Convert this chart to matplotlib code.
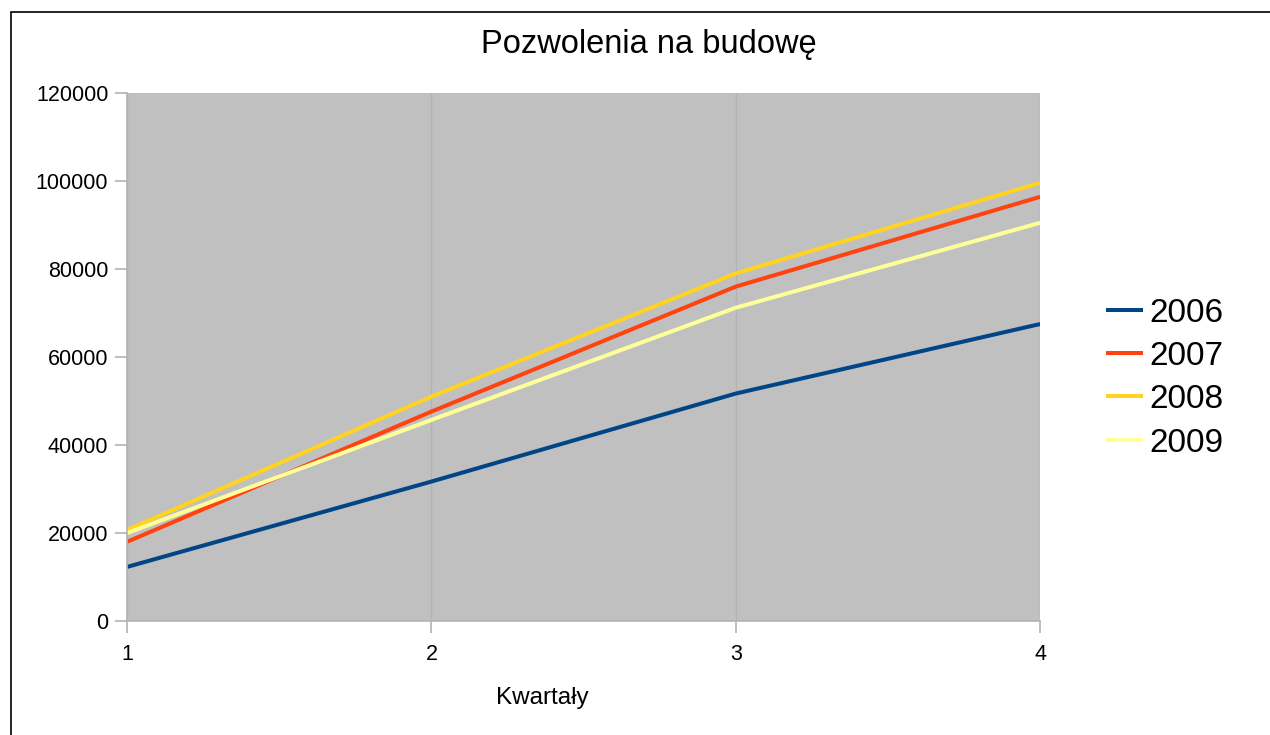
import matplotlib.pyplot as plt
from matplotlib.patches import Rectangle

plt.rcParams['font.family'] = ['Liberation Sans', 'DejaVu Sans']

quarters = [1, 2, 3, 4]
years = ['2006', '2007', '2008', '2009']
v2006 = [12300, 31700, 51700, 67500]
v2007 = [18000, 47600, 76000, 96400]
v2008 = [20700, 51000, 79000, 99600]
v2009 = [20000, 45700, 71200, 90500]
colors = ['#004586', '#ff420e', '#ffd320', '#ffff99']
yticks = [0, 20000, 40000, 60000, 80000, 100000, 120000]

fig = plt.figure(figsize=(12.7, 7.35), dpi=100)
ax = fig.add_axes([0.1, 0.155, 0.719, 0.7185])
ax.set_facecolor('#c0c0c0')

for vals, name, c in zip([v2006, v2007, v2008, v2009], years, colors):
    ax.plot(quarters, vals, color=c, lw=2.9, label=name, solid_capstyle='butt')

ax.set_xlim(1, 4)
ax.set_ylim(0, 120000)
ax.set_xticks(quarters)
ax.set_yticks(yticks)
ax.xaxis.grid(True, color='#b3b3b3', lw=1)
ax.set_axisbelow(True)
for s in ['top', 'right']:
    ax.spines[s].set_visible(False)
for s in ['left', 'bottom']:
    ax.spines[s].set_color('#b3b3b3')
    ax.spines[s].set_linewidth(1.2)
ax.tick_params(axis='both', colors='#b3b3b3', labelcolor='black', labelsize=15.5,
               length=8.5, width=1.2)
ax.tick_params(axis='y', pad=5)
ax.tick_params(axis='x', pad=8)

fig.text(649 / 1270, 1 - 45 / 735, 'Pozwolenia na budowę', fontsize=23.5,
         ha='center', va='center')
fig.text(542 / 1270, 1 - 698 / 735, 'Kwartały', fontsize=17.5,
         ha='center', va='center')

ax.legend(loc='center left', bbox_to_anchor=(1106 / 1270, 1 - 378 / 735),
          bbox_transform=fig.transFigure, frameon=False, borderpad=0,
          borderaxespad=0, fontsize=24, handlelength=1.1, handletextpad=0.2,
          labelspacing=0.37)

fig.patches.append(Rectangle((11 / 1270, -0.1), 2, (735 - 12) / 735 + 0.1,
                             transform=fig.transFigure, fill=False,
                             edgecolor='black', lw=1.2))

fig.savefig('out.png', dpi=100)
